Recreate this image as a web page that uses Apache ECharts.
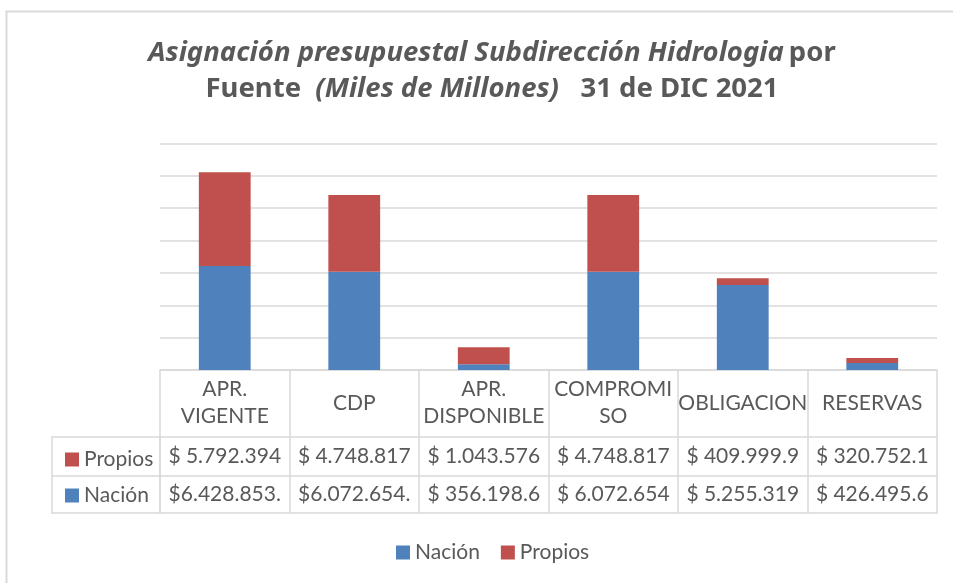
<!DOCTYPE html>
<html>
<head>
<meta charset="utf-8">
<title>Asignación presupuestal</title>
<script src="https://cdn.jsdelivr.net/npm/echarts@6/dist/echarts.min.js"></script>
<style>
  html, body { margin: 0; padding: 0; background: #fff; }
  #chart { width: 953px; height: 583px; }
</style>
</head>
<body>
<div id="chart"></div>
<script>
// datos (miles de millones)
const categorias = ['APR.\nVIGENTE', 'CDP', 'APR.\nDISPONIBLE', 'COMPROMI\nSO', 'OBLIGACION', 'RESERVAS'];
const nacion = [6428853, 6072654, 356198.6, 6072654, 5255319, 426495.6];
const propios = [5792394, 4748817, 1043576, 4748817, 409999.9, 320752.1];
// textos de la tabla tal como se ven (Excel recorta algunos)
const etiquetasPropios = ['$ 5.792.394', '$ 4.748.817', '$ 1.043.576', '$ 4.748.817', '$ 409.999.9', '$ 320.752.1'];
const etiquetasNacion = ['$6.428.853.', '$6.072.654.', '$ 356.198.6', '$ 6.072.654', '$ 5.255.319', '$ 426.495.6'];

const AZUL = '#4F81BD';
const ROJO = '#C0504D';
const GRIS = '#d9d9d9';
const TEXTO = '#595959';
const FUENTE = 'Lato, "Liberation Sans", sans-serif';
const FUENTE_TITULO = '"Noto Sans", Lato, sans-serif';

// posiciones de la tabla de datos
const gridLeft = 160, gridRight = 16, gridTop = 143.5, baseY = 370;
const filaCat = 67, filaProp = 106, filaFin = 143;

const chart = echarts.init(document.getElementById('chart'));

const ejeTabla = (offset, datos, margen) => ({
    type: 'category',
    position: 'bottom',
    offset: offset,
    data: datos,
    axisLine: { show: true, lineStyle: { color: GRIS, width: 1.5 } },
    axisTick: { show: false },
    axisLabel: {
        show: datos.length > 0,
        interval: 0,
        margin: margen,
        verticalAlign: 'middle',
        color: TEXTO,
        fontSize: 21,
        fontFamily: FUENTE
    },
    splitLine: { show: false }
});

const option = {
    backgroundColor: '#fff',
    animation: false,
    title: {
        // el título del original está un poco a la derecha del centro
        left: 487,
        textAlign: 'center',
        top: 30,
        text: '{bi|Asignación presupuestal Subdirección Hidrologia} {b|por}\n{b|Fuente  }{bi|(Miles de Millones)}{b|   31 de DIC 2021}',
        textStyle: {
            rich: {
                b: { fontSize: 27.5, fontWeight: 'bold', color: TEXTO, fontFamily: FUENTE_TITULO, lineHeight: 36 },
                bi: { fontSize: 27.5, fontWeight: 'bold', fontStyle: 'italic', color: TEXTO, fontFamily: FUENTE_TITULO, lineHeight: 36 }
            }
        }
    },
    legend: [
        {
            // leyenda inferior
            data: ['Nación', 'Propios'],
            left: 391,
            top: 537,
            icon: 'rect',
            itemWidth: 14,
            itemHeight: 14,
            itemGap: 21,
            textStyle: { color: TEXTO, fontSize: 21, fontFamily: FUENTE }
        },
        {
            // claves dentro de la tabla
            data: ['Propios', 'Nación'],
            orient: 'vertical',
            left: 60,
            top: 444,
            icon: 'rect',
            itemWidth: 14,
            itemHeight: 14,
            itemGap: 15,
            selectedMode: false,
            textStyle: { color: TEXTO, fontSize: 21, fontFamily: FUENTE }
        }
    ],
    grid: {
        left: gridLeft,
        right: gridRight,
        top: gridTop,
        bottom: 583 - baseY,
        containLabel: false
    },
    xAxis: [
        {
            type: 'category',
            data: categorias,
            axisLine: { show: true, lineStyle: { color: GRIS, width: 1.5 } },
            // las marcas largas hacen las líneas verticales de la tabla
            axisTick: { show: true, length: filaFin, lineStyle: { color: GRIS, width: 1.5 } },
            axisLabel: {
                interval: 0,
                margin: 33,
                verticalAlign: 'middle',
                align: 'center',
                color: TEXTO,
                fontSize: 21,
                lineHeight: 27,
                fontFamily: FUENTE
            }
        },
        ejeTabla(filaCat, etiquetasPropios, 19.5),
        ejeTabla(filaProp, etiquetasNacion, 18.5),
        ejeTabla(filaFin, [], 0)
    ],
    yAxis: {
        type: 'value',
        min: 0,
        max: 14000000,
        interval: 2000000,
        axisLabel: { show: false },
        axisLine: { show: false },
        axisTick: { show: false },
        splitLine: { lineStyle: { color: GRIS, width: 1.5 } }
    },
    series: [
        {
            name: 'Nación',
            type: 'bar',
            stack: 'total',
            barWidth: '40%',
            itemStyle: { color: AZUL },
            data: nacion
        },
        {
            name: 'Propios',
            type: 'bar',
            stack: 'total',
            barWidth: '40%',
            itemStyle: { color: ROJO },
            data: propios
        }
    ],
    graphic: [
        // marco del gráfico
        {
            type: 'rect',
            shape: { x: 6.5, y: 11.5, width: 1200, height: 1000 },
            style: { fill: 'none', stroke: GRIS, lineWidth: 2 },
            silent: true
        },
        // columna izquierda de la tabla (claves)
        {
            type: 'rect',
            shape: { x: 52, y: baseY + filaCat, width: gridLeft - 52, height: filaFin - filaCat },
            style: { fill: 'none', stroke: GRIS, lineWidth: 1.5 },
            silent: true
        },
        {
            type: 'line',
            shape: { x1: 52, y1: baseY + filaProp, x2: gridLeft, y2: baseY + filaProp },
            style: { stroke: GRIS, lineWidth: 1.5 },
            silent: true
        }
    ]
};

chart.setOption(option);
</script>
</body>
</html>
